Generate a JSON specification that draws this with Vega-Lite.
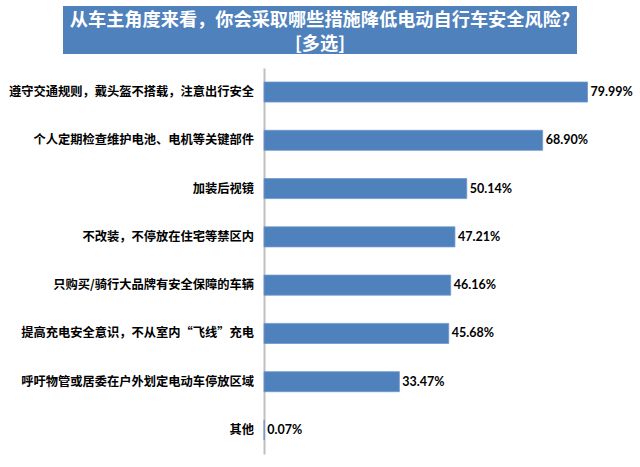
{
  "$schema": "https://vega.github.io/schema/vega-lite/v6.json",
  "background": "white",
  "padding": {"left": 9, "top": 6, "right": 4, "bottom": 10},
  "spacing": 14,
  "datasets": {
    "titleLines": [
      {"line": 1, "text": "从车主角度来看，你会采取哪些措施降低电动自行车安全风险?"},
      {"line": 2, "text": "[多选]"}
    ],
    "measures": [
      {"measure": "遵守交通规则，戴头盔不搭载，注意出行安全", "share": 0.7999},
      {"measure": "个人定期检查维护电池、电机等关键部件", "share": 0.6890},
      {"measure": "加装后视镜", "share": 0.5014},
      {"measure": "不改装，不停放在住宅等禁区内", "share": 0.4721},
      {"measure": "只购买/骑行大品牌有安全保障的车辆", "share": 0.4616},
      {"measure": "提高充电安全意识，不从室内“飞线”充电", "share": 0.4568},
      {"measure": "呼吁物管或居委在户外划定电动车停放区域", "share": 0.3347},
      {"measure": "其他", "share": 0.0007}
    ]
  },
  "vconcat": [
    {
      "width": 514,
      "height": 48,
      "view": {"fill": "#4F81BD", "stroke": null},
      "data": {"name": "titleLines"},
      "mark": {"type": "text", "color": "white", "font": "Noto Sans CJK SC", "fontWeight": "bold", "fontSize": 18.2, "align": "center", "baseline": "middle", "dy": 3},
      "encoding": {
        "y": {"field": "line", "type": "ordinal", "axis": null, "scale": {"paddingInner": 0, "paddingOuter": 0}},
        "text": {"field": "text", "type": "nominal"}
      }
    },
    {
      "spacing": 0,
      "data": {"name": "measures"},
      "hconcat": [
        {
          "width": 200,
          "height": 386,
          "view": {"stroke": null},
          "mark": {"type": "text", "align": "right", "baseline": "middle", "dx": -9, "font": "Noto Sans CJK SC", "fontWeight": "bold", "fontSize": 12.25, "color": "black"},
          "encoding": {
            "y": {"field": "measure", "type": "nominal", "sort": null, "axis": null, "scale": {"paddingInner": 0.585, "paddingOuter": 0.29}},
            "x": {"value": "width"},
            "text": {"field": "measure", "type": "nominal"}
          }
        },
        {
          "width": 364,
          "height": 386,
          "view": {"stroke": null},
          "encoding": {
            "y": {
              "field": "measure",
              "type": "nominal",
              "sort": null,
              "scale": {"paddingInner": 0.585, "paddingOuter": 0.29},
              "axis": {
                "title": null,
                "ticks": false,
                "labels": false,
                "domainColor": "#BFBFBF",
                "domainWidth": 2
              }
            },
            "x": {
              "field": "share",
              "type": "quantitative",
              "scale": {"domain": [0, 0.9], "nice": false},
              "axis": null
            }
          },
          "layer": [
            {"mark": {"type": "bar", "color": "#4F81BD", "stroke": "#6E98CC", "strokeWidth": 0.8}},
            {
              "mark": {"type": "text", "align": "left", "baseline": "middle", "dx": 3, "font": "Lato", "fontWeight": "bold", "fontSize": 12.5, "color": "black"},
              "encoding": {"text": {"field": "share", "type": "quantitative", "format": ".2%"}}
            }
          ]
        }
      ]
    }
  ]
}
